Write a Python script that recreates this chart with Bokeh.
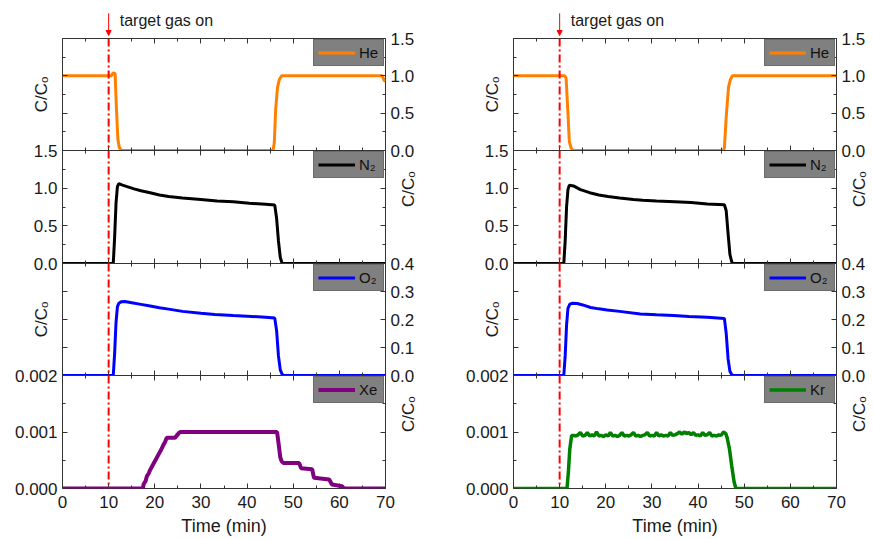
import math
from bokeh.plotting import figure
from bokeh.layouts import row, column
from bokeh.models import (LinearAxis, Range1d, FixedTicker, Legend, LegendItem, Label,
                          Arrow, NormalHead, Span, NumeralTickFormatter)
from bokeh.embed import file_html
from bokeh.resources import INLINE

# ---------------- data ----------------
gas_on_time = 10
gas_on_text = "target gas on"
x_label = "Time (min)"
y_label = "C/C\u2092"

he_left_t = [0, 10.6, 11.0, 11.4, 11.7, 12.0, 12.3, 12.8, 45.6, 45.9, 46.2, 46.6, 47.0, 47.5, 69.3, 69.7, 70]
he_left_v = [1.0, 1.0, 1.04, 1.03, 0.55, 0.15, 0.04, 0.0, 0.0, 0.1, 0.55, 0.85, 0.95, 1.0, 1.0, 0.94, 0.93]

he_right_t = [0, 11.1, 11.4, 11.8, 12.1, 12.5, 13.0, 45.4, 45.7, 46.1, 46.6, 47.0, 47.4, 70]
he_right_v = [1.0, 1.0, 0.97, 0.5, 0.12, 0.03, 0.0, 0.0, 0.03, 0.45, 0.85, 0.95, 1.0, 1.0]

n2_left_t = [0, 11.0, 11.3, 11.6, 11.9, 12.2, 13.0, 14.0, 15.5, 17.0, 19.0, 21.0, 23.0, 26.0, 30.0,
             33.5, 37.0, 40.5, 44.0, 46.0, 46.4, 46.8, 47.2, 47.6, 70]
n2_left_v = [0, 0, 0.35, 0.8, 1.02, 1.06, 1.04, 1.02, 0.99, 0.965, 0.94, 0.91, 0.89, 0.87, 0.85,
             0.83, 0.82, 0.80, 0.785, 0.775, 0.6, 0.3, 0.08, 0, 0]

n2_right_t = [0, 10.9, 11.2, 11.5, 11.8, 12.1, 13.0, 14.5, 16.5, 18.5, 20.5, 23.0, 26.0, 28.0, 31.0,
              35.0, 38.5, 42.0, 45.7, 46.1, 46.5, 46.9, 47.3, 47.6, 70]
n2_right_v = [0, 0, 0.3, 0.75, 0.98, 1.04, 1.03, 0.98, 0.94, 0.91, 0.89, 0.87, 0.85, 0.84, 0.83,
              0.82, 0.81, 0.79, 0.78, 0.7, 0.4, 0.12, 0.02, 0, 0]

o2_left_t = [0, 11.0, 11.3, 11.6, 11.9, 12.2, 12.7, 13.5, 15.0, 17.0, 19.0, 21.0, 23.0, 26.0, 30.0,
             33.0, 37.0, 41.0, 44.0, 46.0, 46.4, 46.8, 47.2, 47.6, 48.0, 70]
o2_left_v = [0, 0, 0.08, 0.19, 0.245, 0.258, 0.263, 0.264, 0.26, 0.254, 0.248, 0.242, 0.237, 0.229, 0.222,
             0.218, 0.214, 0.211, 0.208, 0.205, 0.16, 0.07, 0.02, 0.004, 0, 0]

o2_right_t = [0, 10.9, 11.2, 11.5, 11.8, 12.2, 12.8, 13.8, 15.0, 16.7, 18.5, 20.3, 23.0, 27.5, 31.0,
              34.7, 38.0, 42.0, 45.7, 46.1, 46.5, 46.9, 47.3, 47.7, 70]
o2_right_v = [0, 0, 0.07, 0.18, 0.24, 0.255, 0.258, 0.257, 0.252, 0.243, 0.238, 0.234, 0.229, 0.22, 0.217,
              0.214, 0.211, 0.208, 0.204, 0.15, 0.06, 0.015, 0.003, 0, 0]

xe_t = [0, 17.4, 17.6, 18.0, 18.3, 18.7, 19.0, 19.4, 19.8, 20.2, 20.6, 21.0, 21.4, 21.8, 22.2, 22.6,
        24.4, 24.8, 25.2, 25.5, 46.5, 46.9, 47.2, 47.5, 47.9, 51.3, 51.7, 54.1, 54.5, 57.8, 58.4,
        60.6, 61.0, 70]
xe_v = [0, 0, 0.00008, 0.00013, 0.00022, 0.00027, 0.00033, 0.00039, 0.00045, 0.00051, 0.00057,
        0.00063, 0.00069, 0.00076, 0.00082, 0.0009, 0.0009, 0.00094, 0.00098, 0.001, 0.001,
        0.00075, 0.00055, 0.00048, 0.00045, 0.00045, 0.00036, 0.00034, 0.00019, 0.00016, 0.00007,
        0.00004, 0, 0]

kr_t = [0, 11.6, 11.9, 12.2, 12.6,
        13.0, 13.5, 14.0, 14.5, 15.0, 15.5, 16.0, 16.5, 17.0, 17.5, 18.0, 18.5, 19.0, 19.5, 20.0,
        20.5, 21.0, 21.5, 22.0, 22.5, 23.0, 23.5, 24.0, 24.5, 25.0, 25.5, 26.0, 26.5, 27.0, 27.5,
        28.0, 28.5, 29.0, 29.5, 30.0, 30.5, 31.0, 31.5, 32.0, 32.5, 33.0, 33.5, 34.0, 34.5, 35.0,
        35.5, 36.0, 36.5, 37.0, 37.5, 38.0, 38.5, 39.0, 39.5, 40.0, 40.5, 41.0, 41.5, 42.0, 42.5,
        43.0, 43.5, 44.0, 44.5, 45.0, 45.5, 46.0,
        46.3, 46.8, 47.3, 47.8, 48.2, 70]
kr_v = [0, 0, 0.0003, 0.0007, 0.00094,
        0.00094, 0.00093, 0.00095, 0.00099, 0.00093, 0.00094, 0.00099, 0.00093, 0.00095, 0.00093,
        0.00100, 0.00093, 0.00094, 0.00092, 0.00095, 0.00093, 0.00099, 0.00093, 0.00094, 0.00092,
        0.00094, 0.00099, 0.00093, 0.00094, 0.00093, 0.00095, 0.00099, 0.00093, 0.00094, 0.00092,
        0.00094, 0.00095, 0.00099, 0.00093, 0.00094, 0.00093, 0.00099, 0.00093, 0.00095, 0.00093,
        0.00094, 0.00093, 0.00099, 0.00094, 0.00095, 0.00097, 0.00100, 0.00096, 0.00100, 0.00097,
        0.00099, 0.00095, 0.00099, 0.00094, 0.00095, 0.00093, 0.00099, 0.00094, 0.00095, 0.00099,
        0.00093, 0.00094, 0.00093, 0.00095, 0.00094, 0.00100, 0.00097,
        0.0009, 0.0007, 0.0004, 0.00012, 0, 0]

x_ticks = [0, 10, 20, 30, 40, 50, 60, 70]
x_minor = [5, 15, 25, 35, 45, 55, 65]
big_ticks = [0, 0.5, 1.0, 1.5]
big_minor = [0.25, 0.75, 1.25]
o2_ticks = [0, 0.1, 0.2, 0.3, 0.4]
trace_ticks = [0, 0.001, 0.002]
trace_minor = [0.0005, 0.0015]

HE_C, N2_C, O2_C, XE_C, KR_C = "#FF8000", "#000000", "#0000FF", "#800080", "#008000"

# ---------------- styling helpers ----------------
FONT = "Liberation Sans"
FRAME_W = 323
FRAME_H = [112, 113, 112, 113]
TOP_B = [12, 12, 12, 12]
BOT_B = [12, 12, 12, 51]
HEADER_TOP, HEADER_H = 8, 30
AX_C = "#333333"
TXT_C = "#1a1a1a"


def base_axis(ticker, formatter=None):
    ax = LinearAxis(ticker=ticker) if formatter is None else LinearAxis(ticker=ticker, formatter=formatter)
    ax.axis_line_color = None
    ax.major_tick_in = 5
    ax.major_tick_out = 0
    ax.minor_tick_in = 3
    ax.minor_tick_out = 0
    ax.major_tick_line_color = AX_C
    ax.minor_tick_line_color = AX_C
    ax.major_label_text_font = FONT
    ax.major_label_text_color = TXT_C
    ax.major_label_text_font_size = "17px"
    ax.major_label_standoff = 5
    ax.axis_label_text_font = FONT
    ax.axis_label_text_font_style = "normal"
    ax.axis_label_text_color = TXT_C
    return ax


def add_tick_only(p, side, major, minor):
    # ticks without labels: drawn as 'minor' ticks so no empty labels are produced
    for pos, ln in ((major, 5), (minor, 3)):
        if not pos:
            continue
        ax = base_axis(FixedTicker(ticks=[], minor_ticks=pos))
        ax.minor_tick_in = ln
        ax.major_label_standoff = 0
        p.add_layout(ax, side)


def add_title_axis(p, side, text, standoff, orientation=None):
    ax = base_axis(FixedTicker(ticks=[], minor_ticks=[]))
    ax.major_label_standoff = 0
    ax.axis_label = text
    ax.axis_label_text_font_size = "17px"
    ax.axis_label_standoff = standoff
    if orientation is not None:
        ax.axis_label_orientation = orientation
    p.add_layout(ax, side)


def new_fig(fh, ml, mr, mt, mb, yr):
    p = figure(frame_width=FRAME_W, frame_height=fh,
               x_range=Range1d(0, 70), y_range=Range1d(*yr),
               output_backend="svg", toolbar_location=None,
               x_axis_location=None, y_axis_location=None,
               min_border_left=ml, min_border_right=mr,
               min_border_top=mt, min_border_bottom=mb,
               background_fill_alpha=0, border_fill_alpha=0,
               outline_line_color=AX_C, outline_line_width=1)
    p.grid.visible = False
    return p


def make_header(ml, mr):
    h = new_fig(HEADER_H, ml, mr, HEADER_TOP, 0, (0, 1))
    h.outline_line_color = None
    h.add_layout(Arrow(x_start=gas_on_time, y_start=0.84, x_end=gas_on_time, y_end=0.1,
                       line_color="#FF0000", line_width=1,
                       end=NormalHead(size=5, fill_color="#FF0000", line_color="#FF0000")))
    h.add_layout(Label(x=12.4, y=0.6, text=gas_on_text, text_font=FONT,
                       text_font_size="16px", text_baseline="middle", text_color=TXT_C))
    return h


def make_panel(idx, t, v, color, name, yr, ticks, minor, fmt, labels_left, ml, mr, lw):
    p = new_fig(FRAME_H[idx], ml, mr, TOP_B[idx], BOT_B[idx], yr)
    # x axes
    if idx == 3:
        below = base_axis(FixedTicker(ticks=x_ticks, minor_ticks=x_minor))
        below.major_label_standoff = 7
        below.axis_label = x_label
        below.axis_label_text_font_size = "18px"
        below.axis_label_standoff = 5
        p.add_layout(below, "below")
    else:
        add_tick_only(p, "below", x_ticks, x_minor)
    add_tick_only(p, "above", x_ticks, x_minor)
    # y axes
    lab_side = "left" if labels_left else "right"
    other = "right" if labels_left else "left"
    lab = base_axis(FixedTicker(ticks=ticks, minor_ticks=minor), NumeralTickFormatter(format=fmt))
    p.add_layout(lab, lab_side)
    add_tick_only(p, other, ticks, minor)
    if labels_left:
        add_title_axis(p, "right", y_label, 23, math.pi / 2)
    else:
        add_title_axis(p, "left", y_label, 12)

    p.add_layout(Span(location=gas_on_time, dimension="height", line_color="#FF0000",
                      line_width=2, line_dash="8 3 2 3"))
    r = p.line(t, v, line_color=color, line_width=lw)
    leg = Legend(items=[LegendItem(label=name, renderers=[r])], location="top_right",
                 margin=1, padding=4, spacing=0, label_standoff=4,
                 glyph_width=37, glyph_height=15, label_height=15,
                 label_text_font=FONT, label_text_font_size="15px", label_text_color="#111111",
                 background_fill_color="#808080", background_fill_alpha=1,
                 border_line_color="#555555", border_line_width=1)
    p.add_layout(leg)
    prev_bottom = 0 if idx == 0 else BOT_B[idx - 1]
    p.margin = (-(TOP_B[idx] + prev_bottom), 0, 0, 0)
    return p


SPECS = [
    (big_ticks, big_minor, "0.0", (0, 1.5), False),
    (big_ticks, big_minor, "0.0", (0, 1.5), True),
    (o2_ticks, [], "0.0", (0, 0.4), False),
    (trace_ticks, trace_minor, "0.000", (0, 0.002), True),
]


def build_column(series, ml, mr):
    figs = [make_header(ml, mr)]
    for i, ((t, v, c, n, lw), (tk, mn, fmt, yr, lab_left)) in enumerate(zip(series, SPECS)):
        figs.append(make_panel(i, t, v, c, n, yr, tk, mn, fmt, lab_left, ml, mr, lw))
    return column(*figs)


left_series = [(he_left_t, he_left_v, HE_C, "He", 3), (n2_left_t, n2_left_v, N2_C, "N\u2082", 3),
               (o2_left_t, o2_left_v, O2_C, "O\u2082", 3), (xe_t, xe_v, XE_C, "Xe", 4)]
right_series = [(he_right_t, he_right_v, HE_C, "He", 3), (n2_right_t, n2_right_v, N2_C, "N\u2082", 3),
                (o2_right_t, o2_right_v, O2_C, "O\u2082", 3), (kr_t, kr_v, KR_C, "Kr", 3.5)]

p = row(build_column(left_series, 62, 64), build_column(right_series, 64, 37))

open("out.html", "w").write(file_html(p, INLINE))
